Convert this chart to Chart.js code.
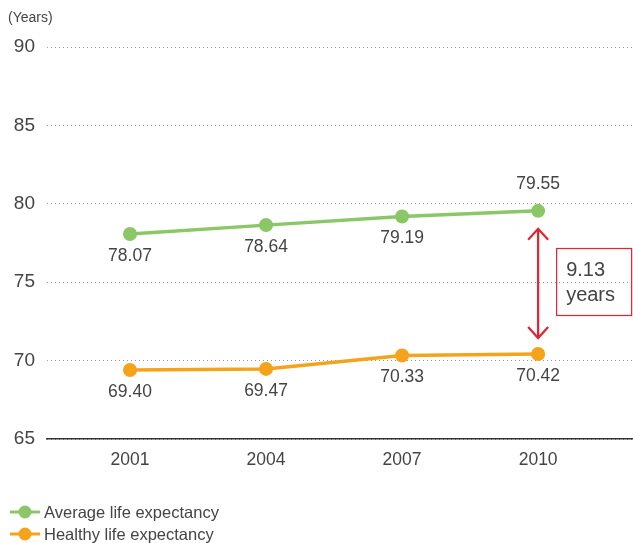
<!DOCTYPE html>
<html>
<head>
<meta charset="utf-8">
<script src="https://cdn.jsdelivr.net/npm/chart.js@4"></script>
<style>
  html, body { margin: 0; padding: 0; background: #fff; }
  #wrap { width: 633px; height: 543px; }
</style>
</head>
<body>
<div id="wrap"><canvas id="lifeChart" width="633" height="543"></canvas></div>
<script>
const years = [2001, 2004, 2007, 2010];
const averageLife = [78.07, 78.64, 79.19, 79.55];
const healthyLife = [69.40, 69.47, 70.33, 70.42];
const yTicks = [65, 70, 75, 80, 85, 90];
const gapLabel = ["9.13", "years"];

const GREEN = "#8bc766";
const ORANGE = "#f6a31c";
const RED = "#e8212f";
const TEXT = "#444";
const FONT = "'Liberation Sans', Arial, sans-serif";

// Value labels: last green point sits above the line, the rest below.
const labelPlugin = {
    id: "valueLabels",
    afterDatasetsDraw(chart) {
        const ctx = chart.ctx;
        ctx.save();
        ctx.font = "17.5px " + FONT;
        ctx.fillStyle = TEXT;
        ctx.textAlign = "center";
        ctx.textBaseline = "middle";
        chart.data.datasets.forEach((ds, i) => {
            chart.getDatasetMeta(i).data.forEach((pt, j) => {
                const above = i === 0 && j === ds.data.length - 1;
                const dy = above ? -27 : 22;
                ctx.fillText(ds.data[j].y.toFixed(2), pt.x, pt.y + dy);
            });
        });
        ctx.restore();
    }
};

// Red double arrow between the two 2010 values plus the boxed gap text.
const gapPlugin = {
    id: "gapArrow",
    afterDatasetsDraw(chart) {
        const ctx = chart.ctx;
        const x = chart.scales.x.getPixelForValue(years[years.length - 1]);
        const yTop = chart.scales.y.getPixelForValue(averageLife[averageLife.length - 1]) + 18;
        const yBot = chart.scales.y.getPixelForValue(healthyLife[healthyLife.length - 1]) - 16;
        ctx.save();
        ctx.strokeStyle = RED;
        ctx.lineWidth = 2.2;
        ctx.beginPath();
        ctx.moveTo(x, yTop);
        ctx.lineTo(x, yBot);
        ctx.moveTo(x - 10, yTop + 11);
        ctx.lineTo(x, yTop);
        ctx.lineTo(x + 10, yTop + 11);
        ctx.moveTo(x - 10, yBot - 11);
        ctx.lineTo(x, yBot);
        ctx.lineTo(x + 10, yBot - 11);
        ctx.stroke();

        const bx = x + 18, by = 248, bw = 75, bh = 67;
        ctx.lineWidth = 1.2;
        ctx.strokeRect(bx + 0.5, by + 0.5, bw, bh);
        ctx.fillStyle = TEXT;
        ctx.font = "20px " + FONT;
        ctx.textAlign = "left";
        ctx.textBaseline = "middle";
        ctx.fillText(gapLabel[0], bx + 10, by + 22);
        ctx.fillText(gapLabel[1], bx + 10, by + 47);
        ctx.restore();
    }
};

// Axis unit caption and the line-with-dot legend at the bottom.
const extrasPlugin = {
    id: "extras",
    afterDraw(chart) {
        const ctx = chart.ctx;
        ctx.save();
        ctx.fillStyle = TEXT;
        ctx.font = "14px " + FONT;
        ctx.textBaseline = "middle";
        ctx.fillText("(Years)", 8, 18);

        const rows = [
            { color: GREEN, text: "Average life expectancy", y: 512 },
            { color: ORANGE, text: "Healthy life expectancy", y: 534 }
        ];
        rows.forEach(r => {
            ctx.strokeStyle = r.color;
            ctx.lineWidth = 3;
            ctx.beginPath();
            ctx.moveTo(10, r.y);
            ctx.lineTo(40, r.y);
            ctx.stroke();
            ctx.fillStyle = r.color;
            ctx.beginPath();
            ctx.arc(25, r.y, 6.5, 0, Math.PI * 2);
            ctx.fill();
            ctx.fillStyle = TEXT;
            ctx.font = "16.5px " + FONT;
            ctx.fillText(r.text, 44, r.y + 1);
        });
        ctx.restore();
    }
};

function toPoints(values) {
    return values.map((v, i) => ({ x: years[i], y: v }));
}

new Chart(document.getElementById("lifeChart"), {
    type: "line",
    data: {
        datasets: [
            {
                label: "Average life expectancy",
                data: toPoints(averageLife),
                borderColor: GREEN,
                backgroundColor: GREEN,
                borderWidth: 3.5,
                pointRadius: 7,
                pointHoverRadius: 7,
                pointBorderWidth: 0
            },
            {
                label: "Healthy life expectancy",
                data: toPoints(healthyLife),
                borderColor: ORANGE,
                backgroundColor: ORANGE,
                borderWidth: 3.5,
                pointRadius: 7,
                pointHoverRadius: 7,
                pointBorderWidth: 0
            }
        ]
    },
    options: {
        responsive: false,
        animation: false,
        layout: { autoPadding: false, padding: { top: 47, right: 1, bottom: 61, left: 0 } },
        plugins: {
            legend: { display: false },
            tooltip: { enabled: false }
        },
        scales: {
            x: {
                type: "linear",
                min: 1999.17,
                max: 2012.07,
                afterBuildTicks: scale => { scale.ticks = years.map(v => ({ value: v })); },
                afterFit: scale => { scale.paddingLeft = 0; scale.paddingRight = 0; },
                grid: { display: false, drawTicks: false },
                border: { display: true, color: "#333", width: 1.5 },
                ticks: {
                    color: TEXT,
                    font: { family: FONT, size: 17.5 },
                    padding: 11,
                    callback: v => String(v)
                }
            },
            y: {
                min: 65,
                max: 90,
                afterBuildTicks: scale => { scale.ticks = yTicks.map(v => ({ value: v })); },
                afterFit: scale => { scale.width = 47; },
                grid: {
                    color: "#999",
                    lineWidth: 1,
                    drawTicks: false
                },
                border: { display: false, dash: [1, 3] },
                ticks: {
                    color: TEXT,
                    font: { family: FONT, size: 19 },
                    padding: 12
                }
            }
        }
    },
    plugins: [labelPlugin, gapPlugin, extrasPlugin]
});
</script>
</body>
</html>
